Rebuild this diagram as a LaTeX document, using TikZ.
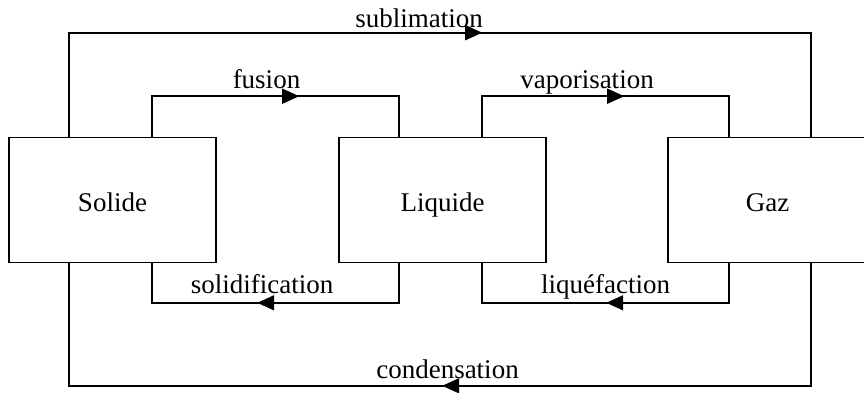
\documentclass[tikz,border=0pt]{standalone}
\usepackage{fontspec}
\setmainfont{Liberation Serif}
\usetikzlibrary{arrows.meta,decorations.markings}
\tikzset{
  state/.style={draw, line width=1.6pt, minimum width=207pt, minimum height=125pt, inner sep=0pt, text height=23.4pt, text depth=0pt},
  conn/.style={draw, line width=1.6pt},
  lbl/.style={anchor=base, inner sep=0pt},
  tipA/.tip={Triangle[length=17pt,width=15pt]},
  midarrow/.style={postaction=decorate, decoration={markings, mark=at position #1 with {\arrow{tipA}}}}
}
\begin{document}
\begin{tikzpicture}[x=1pt,y=-1pt,font=\fontsize{27}{30}\selectfont]
\useasboundingbox (0,0) rectangle (864,392);
\node[state] (solide) at (112.5,200) {Solide};
\node[state] (liquide) at (442.5,200) {Liquide};
\node[state, minimum width=199pt] (gaz) at (767.5,200) {Gaz};

% upper connectors
\draw[conn, midarrow=517pt] ([xshift=61pt]solide.north west) -- ++(0,-104) -| ([xshift=144pt]gaz.north west);
\draw[conn, midarrow=187.5pt] ([xshift=144pt]solide.north west) -- ++(0,-40.5) -| ([xshift=61pt]liquide.north west);
\draw[conn, midarrow=182.5pt] ([xshift=144pt]liquide.north west) -- ++(0,-40.5) -| ([xshift=62pt]gaz.north west);
% lower connectors
\draw[conn, midarrow=181.5pt] ([xshift=61pt]liquide.south west) -- ++(0,39.5) -| ([xshift=144pt]solide.south west);
\draw[conn, midarrow=162.5pt] ([xshift=62pt]gaz.south west) -- ++(0,39.5) -| ([xshift=144pt]liquide.south west);
\draw[conn, midarrow=491.5pt] ([xshift=144pt]gaz.south west) -- ++(0,122.5) -| ([xshift=61pt]solide.south west);

% labels
\node[lbl] (lsub) at (419,27) {sublimation};
\node[lbl] (lfus) at (266.5,88) {fusion};
\node[lbl] (lvap) at (587,88) {vaporisation};
\node[lbl] (lsol) at (262,293) {solidification};
\node[lbl] (lliq) at (605.5,293) {liquéfaction};
\node[lbl] (lcon) at (447.5,378) {condensation};
\end{tikzpicture}
\end{document}
